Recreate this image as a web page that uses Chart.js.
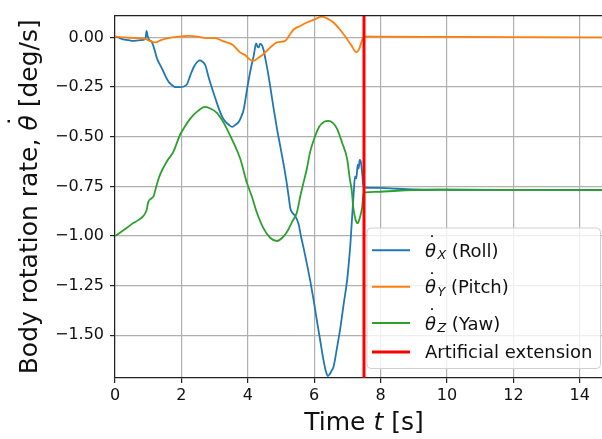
<!DOCTYPE html>
<html>
<head>
<meta charset="utf-8">
<script src="https://cdn.jsdelivr.net/npm/chart.js@4.4.0/dist/chart.umd.min.js"></script>
<style>
  html, body { margin: 0; padding: 0; background: #fff; overflow: hidden; }
  canvas { display: block; }
</style>
</head>
<body>
<canvas id="rates" width="616" height="439"></canvas>
<script>
// body rotation rates [deg/s] vs time [s]
const rollT = [0, 0.1, 0.21, 0.35, 0.51, 0.7, 0.86, 0.92, 0.95, 0.98, 1.02, 1.1, 1.17, 1.27, 1.42, 1.52, 1.62, 1.72, 1.82, 1.95,
  2.07, 2.17, 2.27, 2.37, 2.47, 2.55, 2.62, 2.72, 2.82, 2.93, 3.03, 3.13, 3.23, 3.33, 3.43, 3.53, 3.63, 3.73, 3.8, 3.88,
  3.95, 4.03, 4.1, 4.18, 4.25, 4.29, 4.33, 4.37, 4.41, 4.47, 4.53, 4.6, 4.67, 4.77, 4.88, 4.98, 5.08, 5.16, 5.23, 5.28,
  5.33, 5.43, 5.53, 5.6, 5.68, 5.78, 5.88, 5.98, 6.08, 6.18, 6.28, 6.35, 6.41, 6.47, 6.52, 6.58, 6.68, 6.79, 6.89, 6.99,
  7.04, 7.09, 7.14, 7.19, 7.23, 7.27, 7.31, 7.34, 7.37, 7.41, 7.44, 7.47, 7.5, 7.6, 8.0, 8.5, 9.0, 10, 12, 15];
const rollV = [0.005, 0.0, -0.008, -0.012, -0.017, -0.015, -0.012, -0.005, 0.033, 0.01, -0.01, -0.02, -0.05, -0.108, -0.158, -0.195, -0.225, -0.24, -0.25, -0.25,
  -0.247, -0.235, -0.19, -0.15, -0.125, -0.115, -0.12, -0.14, -0.2, -0.26, -0.31, -0.36, -0.4, -0.425, -0.44, -0.45, -0.44, -0.425, -0.4, -0.36,
  -0.29, -0.21, -0.15, -0.09, -0.03, -0.045, -0.05, -0.033, -0.035, -0.06, -0.108, -0.17, -0.24, -0.35, -0.46, -0.55, -0.64, -0.72, -0.8, -0.86,
  -0.88, -0.9, -0.94, -1.0, -1.06, -1.14, -1.225, -1.32, -1.425, -1.525, -1.625, -1.68, -1.705, -1.695, -1.68, -1.66, -1.57, -1.46, -1.34, -1.225,
  -1.14, -1.04, -0.91, -0.78, -0.7, -0.71, -0.64, -0.66, -0.617, -0.63, -0.675, -0.73, -0.755, -0.757, -0.758, -0.762, -0.765, -0.767, -0.768, -0.768];

const pitchT = [0, 0.3, 0.6, 0.92, 1.05, 1.22, 1.4, 1.72, 2.0, 2.22, 2.5, 2.76, 3.02, 3.27, 3.53, 3.77, 3.93, 4.05, 4.18, 4.3,
  4.43, 4.63, 4.88, 5.13, 5.25, 5.38, 5.58, 5.78, 6.0, 6.23, 6.4, 6.58, 6.8, 6.99, 7.12, 7.27, 7.35, 7.42, 7.5, 8.0, 10, 12, 15];
const pitchV = [0.005, 0.0, -0.003, -0.008, -0.018, -0.025, -0.012, 0.0, 0.005, 0.008, 0.004, -0.003, -0.003, -0.02, -0.035, -0.075, -0.09, -0.11, -0.117, -0.105,
  -0.09, -0.058, -0.025, -0.017, 0.01, 0.04, 0.058, 0.075, 0.09, 0.105, 0.095, 0.075, 0.035, -0.008, -0.04, -0.075, -0.06, -0.025, 0.005, 0.004, 0.003, 0.002, 0.0];

const yawT = [0, 0.35, 0.55, 0.7, 0.85, 0.95, 1.0, 1.1, 1.16, 1.26, 1.36, 1.56, 1.76, 1.96, 2.1, 2.26, 2.5, 2.71, 2.9, 3.07,
  3.22, 3.37, 3.57, 3.77, 3.97, 4.12, 4.27, 4.47, 4.68, 4.88, 5.03, 5.18, 5.33, 5.48, 5.58, 5.68, 5.78, 5.88, 6.0, 6.15,
  6.3, 6.43, 6.56, 6.69, 6.84, 6.99, 7.08, 7.13, 7.18, 7.25, 7.31, 7.37, 7.44, 7.49, 7.55, 8.0, 8.5, 9.0, 9.8, 12, 15];
const yawV = [-1.0, -0.96, -0.935, -0.92, -0.9, -0.87, -0.83, -0.81, -0.8, -0.74, -0.69, -0.625, -0.575, -0.49, -0.45, -0.41, -0.37, -0.35, -0.36, -0.38,
  -0.415, -0.46, -0.53, -0.61, -0.73, -0.8, -0.88, -0.96, -1.01, -1.025, -1.01, -0.98, -0.93, -0.88, -0.8, -0.73, -0.66, -0.575, -0.51, -0.45,
  -0.425, -0.42, -0.43, -0.46, -0.53, -0.61, -0.72, -0.77, -0.86, -0.92, -0.935, -0.91, -0.86, -0.785, -0.78, -0.777, -0.772, -0.769, -0.767, -0.768, -0.769];

const extensionT = 7.5;
const xTicks = [0, 2, 4, 6, 8, 10, 12, 14];
const yTicks = [0, -0.25, -0.5, -0.75, -1.0, -1.25, -1.5];
const xRange = [0, 15];
const yRange = [-1.715, 0.11];

const seriesSub = ['X', 'Y', 'Z'];
const seriesName = ['(Roll)', '(Pitch)', '(Yaw)'];
const extensionLabel = 'Artificial extension';

const FONT = "'DejaVu Sans', sans-serif";
const INK = '#111';
const BLUE = '#1f77b4', ORANGE = '#ff7f0e', GREEN = '#2ca02c', RED = '#ff0000';

function pts(ts, vs) { return ts.map((t, i) => ({ x: t, y: vs[i] })); }
function fmtTick(v) { return v.toFixed(2).replace('-', '\u2212'); }

// italic theta with a dot accent and optional italic subscript, returns end x
function drawThetaDot(ctx, x, y, size, sub, subSize) {
  ctx.font = 'italic ' + size + 'px ' + FONT;
  const m = ctx.measureText('\u03B8');
  ctx.fillText('\u03B8', x, y);
  const cx = x + (m.actualBoundingBoxRight - m.actualBoundingBoxLeft) / 2 + 0.08 * size;
  const cy = y - 1.15 * size;
  ctx.font = size + 'px ' + FONT;
  const d = ctx.measureText('\u02D9');
  ctx.fillText('\u02D9', cx - (d.actualBoundingBoxRight - d.actualBoundingBoxLeft) / 2,
    cy + (d.actualBoundingBoxAscent - d.actualBoundingBoxDescent) / 2);
  let end = x + m.width;
  if (sub) {
    ctx.font = 'italic ' + subSize + 'px ' + FONT;
    ctx.fillText(sub, end + 1.5, y + 2.3);
    end += 1.5 + ctx.measureText(sub).width;
  }
  return end;
}

const decorations = {
  id: 'decorations',
  afterDraw(chart) {
    const ctx = chart.ctx;
    const area = chart.chartArea;
    ctx.save();

    // top spine
    ctx.strokeStyle = '#222';
    ctx.lineWidth = 1.2;
    ctx.beginPath();
    ctx.moveTo(area.left, area.top);
    ctx.lineTo(area.right, area.top);
    ctx.stroke();

    ctx.fillStyle = INK;
    ctx.textAlign = 'left';
    ctx.textBaseline = 'alphabetic';

    // x axis title
    const ts = 25;
    ctx.font = ts + 'px ' + FONT;
    const w1 = ctx.measureText('Time ').width;
    const w3 = ctx.measureText(' [s]').width;
    ctx.font = 'italic ' + ts + 'px ' + FONT;
    const w2 = ctx.measureText('t').width;
    let x = (area.left + area.right) / 2 - (w1 + w2 + w3) / 2;
    ctx.font = ts + 'px ' + FONT;
    ctx.fillText('Time ', x, 430);
    ctx.font = 'italic ' + ts + 'px ' + FONT;
    ctx.fillText('t', x + w1, 430);
    ctx.font = ts + 'px ' + FONT;
    ctx.fillText(' [s]', x + w1 + w2, 430);

    // y axis title
    ctx.save();
    ctx.translate(37, (area.top + area.bottom) / 2);
    ctx.rotate(-Math.PI / 2);
    ctx.font = ts + 'px ' + FONT;
    const a1 = ctx.measureText('Body rotation rate, ').width;
    const a3 = ctx.measureText(' [deg/s]').width;
    ctx.font = 'italic ' + ts + 'px ' + FONT;
    const a2 = ctx.measureText('\u03B8').width;
    x = -(a1 + a2 + a3) / 2;
    ctx.font = ts + 'px ' + FONT;
    ctx.fillText('Body rotation rate, ', x, 0);
    const e = drawThetaDot(ctx, x + a1, 0, ts, null, 0);
    ctx.font = ts + 'px ' + FONT;
    ctx.fillText(' [deg/s]', e, 0);
    ctx.restore();

    // legend box
    const bx = 367, by = 228, bw = 233.5, bh = 140.5, r = 4;
    ctx.beginPath();
    ctx.roundRect(bx, by, bw, bh, r);
    ctx.fillStyle = 'rgba(255,255,255,0.8)';
    ctx.fill();
    ctx.strokeStyle = '#d0d0d0';
    ctx.lineWidth = 1;
    ctx.stroke();

    const colors = [BLUE, ORANGE, GREEN];
    const baselines = [256.7, 293.3, 329.5];
    const ls = 18;
    for (let i = 0; i < 3; i++) {
      const b = baselines[i];
      ctx.strokeStyle = colors[i];
      ctx.lineWidth = 2;
      ctx.beginPath();
      ctx.moveTo(372, b - 6.5);
      ctx.lineTo(410, b - 6.5);
      ctx.stroke();
      ctx.fillStyle = INK;
      const end = drawThetaDot(ctx, 425, b, ls, seriesSub[i], 12.6);
      ctx.font = ls + 'px ' + FONT;
      ctx.fillText(' ' + seriesName[i], end, b);
    }
    ctx.strokeStyle = RED;
    ctx.lineWidth = 3;
    ctx.beginPath();
    ctx.moveTo(372, 352);
    ctx.lineTo(410, 352);
    ctx.stroke();
    ctx.fillStyle = INK;
    ctx.font = ls + 'px ' + FONT;
    ctx.fillText(extensionLabel, 425, 357.5);

    ctx.restore();
  }
};

const lineStyle = { pointRadius: 0, borderWidth: 1.8, fill: false, cubicInterpolationMode: 'monotone' };

new Chart(document.getElementById('rates'), {
  type: 'line',
  data: {
    datasets: [
      Object.assign({ label: 'Roll', data: pts(rollT, rollV), borderColor: BLUE, order: 3 }, lineStyle),
      Object.assign({ label: 'Pitch', data: pts(pitchT, pitchV), borderColor: ORANGE, order: 2 }, lineStyle),
      Object.assign({ label: 'Yaw', data: pts(yawT, yawV), borderColor: GREEN, order: 1 }, lineStyle),
      { label: extensionLabel, data: [{ x: extensionT, y: yRange[0] }, { x: extensionT, y: yRange[1] }],
        borderColor: RED, borderWidth: 3, pointRadius: 0, order: 0 }
    ]
  },
  options: {
    responsive: false,
    animation: false,
    devicePixelRatio: 1,
    layout: { padding: { top: 13, right: 3, left: 0, bottom: 0 } },
    plugins: { legend: { display: false }, tooltip: { enabled: false } },
    scales: {
      x: {
        type: 'linear', min: xRange[0], max: xRange[1],
        afterBuildTicks: s => { s.ticks = xTicks.map(v => ({ value: v })); },
        afterFit: s => { s.height = 61; },
        ticks: { font: { family: FONT, size: 16 }, color: INK, padding: 3, maxRotation: 0, autoSkip: false,
          callback: v => String(v) },
        grid: { color: '#b0b0b0', lineWidth: 1.2, tickLength: 5, tickColor: '#222', tickWidth: 1.2 },
        border: { color: '#222', width: 1.2 }
      },
      y: {
        type: 'linear', min: yRange[0], max: yRange[1],
        afterBuildTicks: s => { s.ticks = yTicks.map(v => ({ value: v })); },
        afterFit: s => { s.width = 115; },
        ticks: { font: { family: FONT, size: 16 }, color: INK, padding: 6, autoSkip: false,
          callback: v => fmtTick(v) },
        grid: { color: '#b0b0b0', lineWidth: 1.2, tickLength: 5, tickColor: '#222', tickWidth: 1.2 },
        border: { color: '#222', width: 1.2 }
      }
    }
  },
  plugins: [decorations]
});
</script>
</body>
</html>
